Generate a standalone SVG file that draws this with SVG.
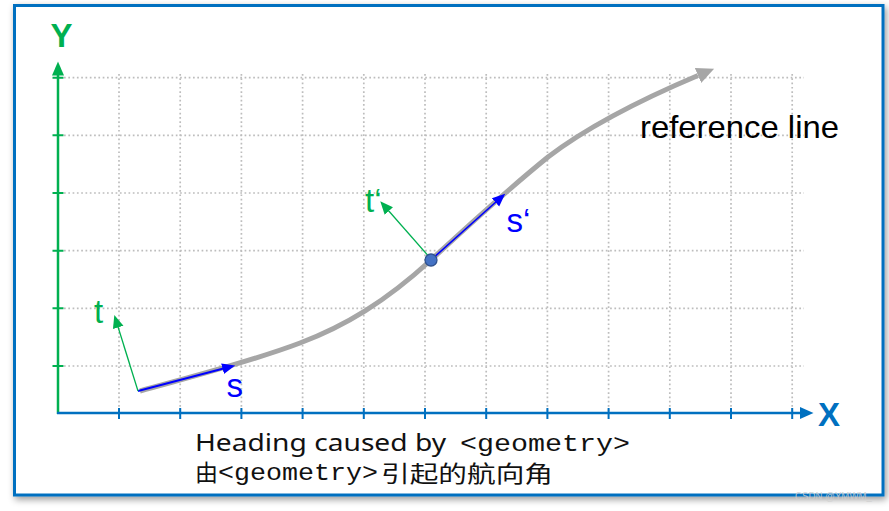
<svg xmlns="http://www.w3.org/2000/svg" width="889" height="511" viewBox="0 0 889 511">
<defs>
<style>
.grid{stroke:#BDBDBD;stroke-width:1.7;stroke-dasharray:1.7 2.6;fill:none}
.ytick{stroke:#00B050;stroke-width:2}
.xtick{stroke:#0070C0;stroke-width:2}
.lbl{font-family:"Liberation Sans",Arial,sans-serif}
.cap{font-family:"Noto Sans","Open Sans",sans-serif;font-size:24px;fill:#111}
.mono{font-family:"Liberation Mono","DejaVu Sans Mono",monospace;font-size:24px;fill:#111}
.cjk{font-family:"Noto Sans CJK SC","Noto Sans",sans-serif;font-size:23px;fill:#111}
</style>
<filter id="sh" x="-5%" y="-5%" width="110%" height="112%">
<feDropShadow dx="2" dy="3" stdDeviation="3.5" flood-color="#000" flood-opacity="0.4"/>
</filter>
<marker id="refArrow" markerUnits="userSpaceOnUse" markerWidth="20" markerHeight="20" viewBox="0 -8 16 16" refX="0" refY="0" orient="auto">
<path d="M0,-6.5 L14,0 L0,6.5 z" fill="#A6A6A6"/>
</marker>
<marker id="blueArrow" markerUnits="userSpaceOnUse" markerWidth="16" markerHeight="16" viewBox="0 -8 16 16" refX="2" refY="0" orient="auto">
<path d="M0,-5.5 L13,0 L0,5.5 z" fill="#0000FF"/>
</marker>
<marker id="greenArrow" markerUnits="userSpaceOnUse" markerWidth="16" markerHeight="16" viewBox="0 -8 16 16" refX="2" refY="0" orient="auto">
<path d="M0,-5.5 L13,0 L0,5.5 z" fill="#00B050"/>
</marker>
</defs>

<g id="frame">
<rect x="14.5" y="5.5" width="868.5" height="489.5" fill="#FFFFFF" stroke="#0070C0" stroke-width="3" filter="url(#sh)"/>
</g>

<g id="grid">
<path class="grid" d="M64,77.7H804 M64,135.3H804 M64,193H804 M64,250.7H804 M64,308.3H804 M64,366H804"/>
<path class="grid" d="M119,74V413 M180.2,74V413 M241.4,74V413 M302.6,74V413 M363.8,74V413 M425,74V413 M486.2,74V413 M547.4,74V413 M608.6,74V413 M669.8,74V413 M731,74V413 M792.2,74V413"/>
</g>

<g id="axes">
<line x1="58" y1="414" x2="58" y2="75" stroke="#00B050" stroke-width="2.5"/>
<polygon points="58,61.5 52,75.5 64,75.5" fill="#00B050"/>
<path class="ytick" d="M52.5,77.7H63.5 M52.5,135.3H63.5 M52.5,193H63.5 M52.5,250.7H63.5 M52.5,308.3H63.5 M52.5,366H63.5"/>
<line x1="57" y1="413" x2="801" y2="413" stroke="#0070C0" stroke-width="2.5"/>
<polygon points="813.5,413 800,407 800,419" fill="#0070C0"/>
<path class="xtick" d="M119,408V419 M180.2,408V419 M241.4,408V419 M302.6,408V419 M363.8,408V419 M425,408V419 M486.2,408V419 M547.4,408V419 M608.6,408V419 M669.8,408V419 M731,408V419 M792.2,408V419"/>
<text class="lbl" x="61.5" y="47" font-size="33" font-weight="bold" fill="#00B050" text-anchor="middle">Y</text>
<text class="lbl" x="829" y="426" font-size="33" font-weight="bold" fill="#0070C0" text-anchor="middle">X</text>
</g>

<g id="reference-line">
<path d="M140,391 C190,377 250,362 300,343 C345,326 385,302 431,260 C470,224 500,196 548,157 C590,125 640,100 698,75.5" fill="none" stroke="#A6A6A6" stroke-width="5" marker-end="url(#refArrow)"/>
<text class="lbl" x="640" y="138" font-size="32" fill="#000" textLength="199" lengthAdjust="spacingAndGlyphs">reference line</text>
</g>

<g id="connectors">
<line x1="138" y1="391" x2="224.5" y2="368.2" stroke="#0000FF" stroke-width="2" marker-end="url(#blueArrow)"/>
<line x1="138" y1="391" x2="117.6" y2="325.5" stroke="#00B050" stroke-width="1.3" marker-end="url(#greenArrow)"/>
<line x1="431" y1="260" x2="497" y2="201" stroke="#0000FF" stroke-width="1.6" marker-end="url(#blueArrow)"/>
<line x1="431" y1="259" x2="387.5" y2="209.5" stroke="#00B050" stroke-width="1.3" marker-end="url(#greenArrow)"/>
</g>

<g id="point">
<circle cx="431" cy="260" r="6" fill="#4472C4" stroke="#2F528F" stroke-width="1.3"/>
</g>

<g id="labels">
<text class="lbl" x="94" y="323" font-size="33" fill="#00B050">t</text>
<text class="lbl" x="226.5" y="397" font-size="33" fill="#0000FF">s</text>
<text class="lbl" x="365" y="212" font-size="33" fill="#00B050">t‘</text>
<text class="lbl" x="506.5" y="231.5" font-size="33" fill="#0000FF">s‘</text>
</g>

<g id="caption">
<text class="cap" x="195" y="451" textLength="251" lengthAdjust="spacingAndGlyphs">Heading caused by</text>
<text class="mono" x="460" y="451" textLength="170" lengthAdjust="spacingAndGlyphs">&lt;geometry&gt;</text>
<text class="cjk" x="195" y="481" font-size="22">由</text>
<text class="mono" x="218" y="480" textLength="160" lengthAdjust="spacingAndGlyphs">&lt;geometry&gt;</text>
<text class="cjk" x="381" y="482" textLength="172" lengthAdjust="spacingAndGlyphs">引起的航向角</text>
</g>

<g id="watermark">
<text class="lbl" x="795" y="500" font-size="11" fill="#cfcfcf" fill-opacity="0.85" textLength="77" lengthAdjust="spacingAndGlyphs">CSDN @YMWM_</text>
</g>
</svg>
